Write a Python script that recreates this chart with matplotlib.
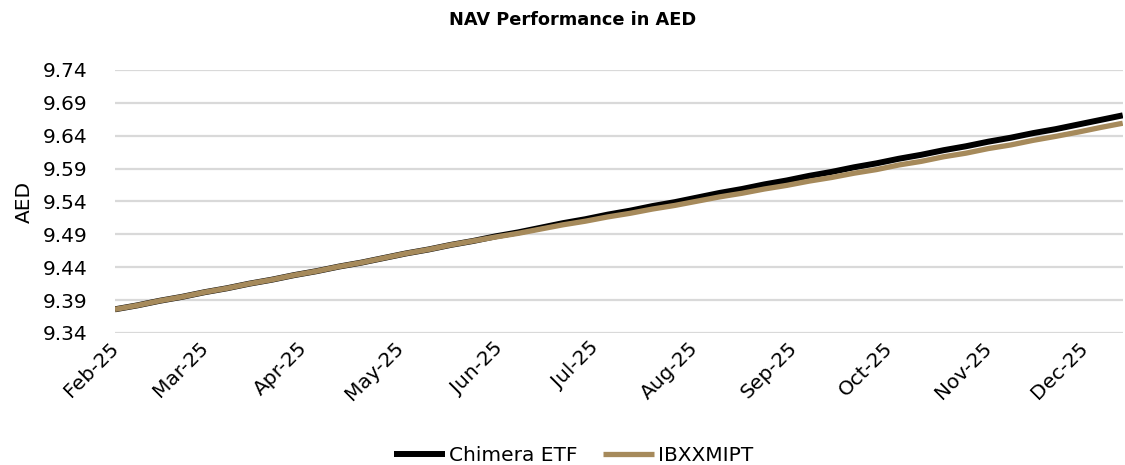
import matplotlib
matplotlib.use("Agg")
import matplotlib.pyplot as plt
import matplotlib.dates as mdates
import matplotlib.transforms as mtransforms
import pandas as pd

# Weekly NAV observations (AED)
week_dates = pd.date_range("2025-02-01", periods=46, freq="7D")

chimera_etf = [
    9.376, 9.382, 9.389, 9.395, 9.402, 9.408, 9.415, 9.421, 9.428, 9.434,
    9.441, 9.447, 9.454, 9.461, 9.467, 9.474, 9.480, 9.487, 9.493, 9.500,
    9.507, 9.513, 9.520, 9.526, 9.533, 9.539, 9.546, 9.553, 9.559, 9.566,
    9.572, 9.579, 9.585, 9.592, 9.598, 9.605, 9.611, 9.618, 9.624, 9.631,
    9.637, 9.644, 9.650, 9.657, 9.664, 9.671,
]

ibxxmipt = [
    9.376, 9.382, 9.389, 9.395, 9.402, 9.408, 9.415, 9.421, 9.428, 9.434,
    9.441, 9.447, 9.454, 9.461, 9.467, 9.474, 9.480, 9.486, 9.4915, 9.498,
    9.5045, 9.510, 9.5165, 9.522, 9.5285, 9.534, 9.5405, 9.547, 9.5525, 9.559,
    9.5645, 9.571, 9.5765, 9.583, 9.5885, 9.5955, 9.601, 9.608, 9.6135, 9.6205,
    9.626, 9.633, 9.639, 9.6455, 9.6525, 9.659,
]

y_ticks = [9.34, 9.39, 9.44, 9.49, 9.54, 9.59, 9.64, 9.69, 9.74]

plt.rcParams["font.family"] = ["DejaVu Sans"]

fig = plt.figure(figsize=(11.25, 4.65), dpi=100)
ax = fig.add_axes([0.1022, 0.2839, 0.8958, 0.5656])

ax.plot(week_dates, chimera_etf, color="#000000", lw=4.3,
        solid_capstyle="butt", solid_joinstyle="round", label="Chimera ETF", zorder=3)
ax.plot(week_dates, ibxxmipt, color="#A68A5B", lw=3.8,
        solid_capstyle="butt", solid_joinstyle="round", label="IBXXMIPT", zorder=4)

ax.set_ylim(9.34, 9.74)
ax.set_yticks(y_ticks)
ax.set_yticklabels([f"{v:.2f}" for v in y_ticks])
ax.set_xlim(week_dates[0], week_dates[-1])

ax.xaxis.set_major_locator(mdates.MonthLocator())
ax.xaxis.set_major_formatter(mdates.DateFormatter("%b-%y"))

ax.grid(axis="y", color="#D9D9D9", lw=1.6, zorder=0)
ax.grid(axis="x", visible=False)
for s in ax.spines.values():
    s.set_visible(False)
ax.tick_params(axis="both", length=0, labelsize=14.5)
ax.tick_params(axis="y", pad=20)
ax.tick_params(axis="x", pad=4)
shift = mtransforms.ScaledTranslation(-6 / 100, 0, fig.dpi_scale_trans)
for lab in ax.get_xticklabels():
    lab.set_rotation(45)
    lab.set_ha("right")
    lab.set_rotation_mode("anchor")
    lab.set_transform(lab.get_transform() + shift)

ax.set_ylabel("AED", fontsize=14.5, labelpad=6)

fig.text(0.509, 0.957, "NAV Performance in AED", ha="center", va="center",
         fontsize=12.8, fontweight="bold")

fig.legend(loc="center", bbox_to_anchor=(0.51, 0.02), ncol=2, frameon=False,
           fontsize=14.5, handlelength=2.5, handletextpad=0.2, columnspacing=1.3,
           borderaxespad=0)

fig.savefig("out.png", dpi=100)
